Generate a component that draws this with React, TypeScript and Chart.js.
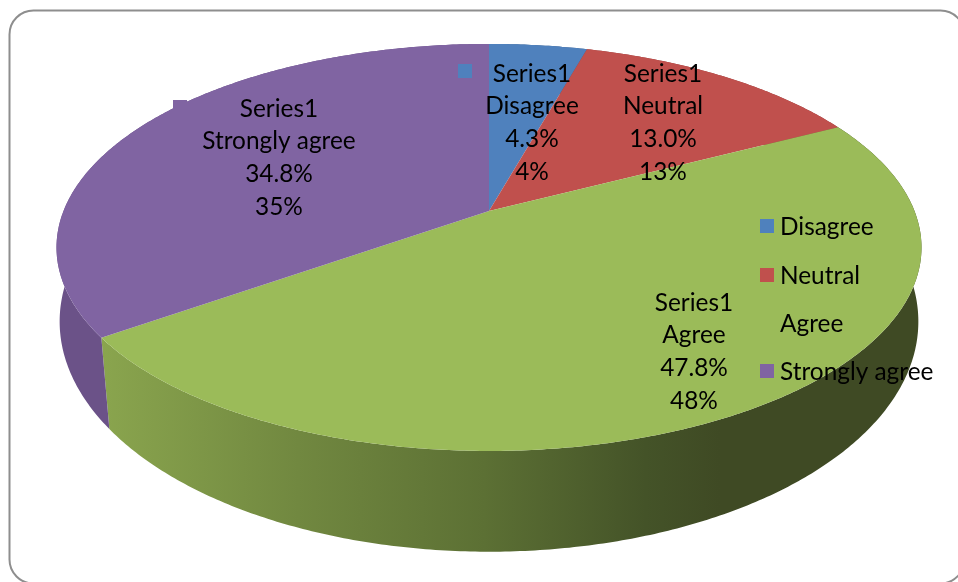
import React, { useEffect, useRef } from "react";
import { Chart, registerables } from "chart.js";

Chart.register(...registerables);

const categories = ["Disagree", "Neutral", "Agree", "Strongly agree"];
const values = [1, 3, 11, 8];
const percentText = ["4.3%", "13.0%", "47.8%", "34.8%"];
const roundedText = ["4%", "13%", "48%", "35%"];
const seriesName = "Series1";
const colors = ["#4f81bd", "#c0504d", "#9bbb59", "#8064a2"];
const wallColors = ["#3f618c", "#8f3b39", "#748c42", "#6b5288"];

const FONT = "Lato";

// perspective of the two discs, relative to the slice apex
const topDisc = { a: 425.5, b: 197, k: 0.179, dy: 0 };
const bottomDisc = { a: 424.5, b: 225, k: 0.15, dy: 76 };

function project(d: typeof topDisc, el: any, angle: number) {
  const t = angle + Math.PI / 2;
  const u = Math.sin(t);
  const v = Math.cos(t);
  const w = 1 + d.k * v;
  return { x: el.x + (d.a * u) / w, y: el.y + d.dy - (d.b * v) / w };
}

function samples(el: any) {
  const n = Math.max(2, Math.ceil((el.endAngle - el.startAngle) / 0.01));
  const out: number[] = [];
  for (let i = 0; i <= n; i++) out.push(el.startAngle + ((el.endAngle - el.startAngle) * i) / n);
  return out;
}

const perspectivePie = {
  id: "perspectivePie",
  beforeDatasetDraw(chart: any) {
    const ctx = chart.ctx;
    const arcs = chart.getDatasetMeta(0).data;
    ctx.save();
    arcs.forEach((el: any, i: number) => {
      const grad = ctx.createLinearGradient(100, 0, 720, 0);
      if (i === 2) {
        grad.addColorStop(0, "#8aa54e");
        grad.addColorStop(0.32, "#718840");
        grad.addColorStop(0.62, "#5c7034");
        grad.addColorStop(0.88, "#445328");
        grad.addColorStop(1, "#3f4a24");
      }
      const angles = samples(el);
      ctx.beginPath();
      angles.forEach((a, j) => {
        const p = project(topDisc, el, a);
        if (j === 0) ctx.moveTo(p.x, p.y);
        else ctx.lineTo(p.x, p.y);
      });
      [...angles].reverse().forEach((a) => {
        const p = project(bottomDisc, el, a);
        ctx.lineTo(p.x, p.y);
      });
      ctx.closePath();
      ctx.fillStyle = i === 2 ? grad : wallColors[i];
      ctx.fill();
    });
    arcs.forEach((el: any, i: number) => {
      ctx.beginPath();
      ctx.moveTo(el.x, el.y);
      samples(el).forEach((a) => {
        const p = project(topDisc, el, a);
        ctx.lineTo(p.x, p.y);
      });
      ctx.closePath();
      ctx.fillStyle = colors[i];
      ctx.fill();
    });
    ctx.restore();
    return false;
  },
};

const labelCentres = [
  { x: 532, y: 74, mx: 458, my: 64 },
  { x: 663, y: 74, mx: 596, my: 64 },
  { x: 694, y: 303, mx: 630, my: 293 },
  { x: 279, y: 109, mx: 173, my: 100 },
];
const legendRows = [219, 268, 316, 364];

const annotations = {
  id: "annotations",
  afterDraw(chart: any) {
    const ctx = chart.ctx;
    ctx.save();
    ctx.font = `24.4px ${FONT}`;
    ctx.fillStyle = "#000";
    ctx.textBaseline = "middle";
    categories.forEach((cat, i) => {
      const c = labelCentres[i];
      ctx.fillStyle = colors[i];
      ctx.fillRect(c.mx, c.my, 14, 14);
      ctx.fillStyle = "#000";
      ctx.textAlign = "center";
      [seriesName, cat, percentText[i], roundedText[i]].forEach((t, j) => {
        ctx.fillText(t, c.x, c.y + j * 32.6);
      });
      ctx.fillStyle = colors[i];
      ctx.fillRect(760, legendRows[i], 14, 14);
      ctx.fillStyle = "#000";
      ctx.textAlign = "left";
      ctx.fillText(cat, 780, legendRows[i] + 8);
    });
    ctx.restore();
  },
};

const frame = {
  id: "frame",
  beforeDraw(chart: any) {
    const ctx = chart.ctx;
    ctx.save();
    ctx.fillStyle = "#fff";
    ctx.fillRect(0, 0, 958, 582);
    ctx.beginPath();
    ctx.roundRect(9.5, 10.5, 955, 573, 24);
    ctx.strokeStyle = "#8e8e8e";
    ctx.lineWidth = 2;
    ctx.stroke();
    ctx.restore();
  },
};

export default function App() {
  const ref = useRef<HTMLCanvasElement>(null);
  useEffect(() => {
    const chart = new Chart(ref.current!, {
      type: "pie",
      data: {
        labels: categories,
        datasets: [{ label: seriesName, data: values, backgroundColor: colors, borderWidth: 0 }],
      },
      options: {
        responsive: false,
        animation: false,
        layout: { padding: { left: 20, bottom: 160 } },
        plugins: { legend: { display: false }, tooltip: { enabled: false } },
      },
      plugins: [frame, perspectivePie, annotations],
    });
    return () => chart.destroy();
  }, []);
  return (
    <div style={{ position: "absolute", left: 0, top: 0, width: 958, height: 582, overflow: "hidden" }}>
      <canvas ref={ref} width={958} height={582} style={{ display: "block" }} />
    </div>
  );
}
